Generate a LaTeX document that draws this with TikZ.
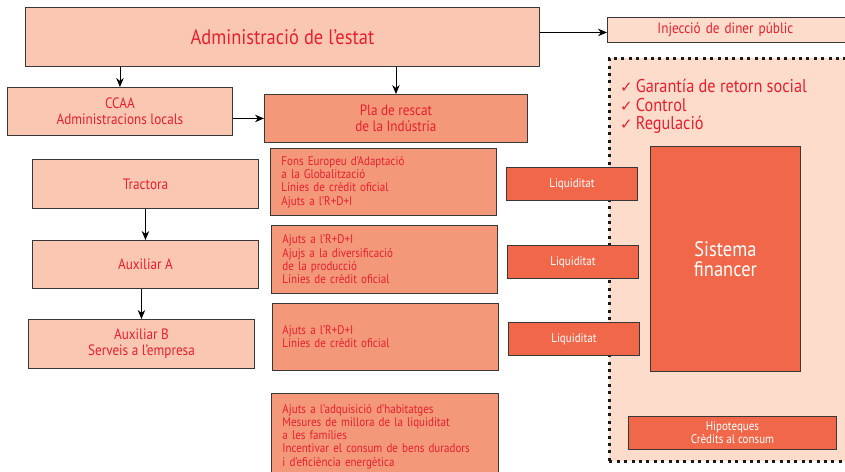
\documentclass[tikz,border=0pt]{standalone}
\usepackage{fontspec}
\setmainfont[FakeStretch=0.88]{PT Sans}
\newfontfamily\chkfont{DejaVu Sans}
\usetikzlibrary{arrows.meta,calc}
\definecolor{cLight}{HTML}{FAC8B2}
\definecolor{cPale}{HTML}{FDDCCC}
\definecolor{cMid}{HTML}{F4987A}
\definecolor{cDark}{HTML}{F0674A}
\definecolor{cRed}{HTML}{E5202E}
\definecolor{cLine}{HTML}{383838}
\tikzset{
  box/.style={draw=cLine, line width=0.9pt, inner sep=0pt, anchor=north west, text=cRed},
  lbox/.style={box, fill=cLight},
  pbox/.style={box, fill=cPale},
  mbox/.style={box, fill=cMid},
  dbox/.style={box, fill=cDark, text=white},
  fbig/.style={font=\fontsize{21}{22}\selectfont},
  fmed/.style={font=\fontsize{15}{16}\selectfont},
  fsmall/.style={font=\fontsize{12.5}{13.3}\selectfont},
  mlist/.style={mbox, fsmall, align=left},
  arr/.style={draw=black, line width=0.9pt, -{Stealth[length=9pt,width=7.5pt]}},
  zone/.style={draw=black!90, fill=cPale, line width=2.8pt, dash pattern=on 3pt off 4.4pt, anchor=north west, inner sep=0pt},
}
\begin{document}
\begin{tikzpicture}[x=1pt,y=-1pt]
\useasboundingbox (0,0) rectangle (845,471);
\clip (0,0) rectangle (845,471);
% dashed zone
\node[zone, minimum width=250pt, minimum height=403pt] (zone) at (608,57) {};
% top
\node[lbox, fbig, minimum width=514pt, minimum height=59pt] (adm) at (25,7) {Administració de l’estat};
\node[pbox, fmed, minimum width=250pt, minimum height=25pt, text width=230pt, align=left] (inj) at (607,17) {\hspace*{40pt}Injecció de diner públic};
\node[lbox, fmed, minimum width=225pt, minimum height=48pt, align=center] (ccaa) at (7,87) {CCAA\\Administracions locals};
\node[mbox, fmed, minimum width=263pt, minimum height=48pt, align=center] (pla) at (264,94) {Pla de rescat\\de la Indústria};
% left column
\node[lbox, fmed, minimum width=226pt, minimum height=49pt] (trac) at (32,159) {Tractora};
\node[lbox, fmed, minimum width=226pt, minimum height=48pt] (auxa) at (32,240) {Auxiliar A};
\node[lbox, fmed, minimum width=226pt, minimum height=49pt, align=center] (auxb) at (28,319) {Auxiliar B\\Serveis a l’empresa};
% measures
\node[mlist, minimum width=226pt, minimum height=67pt, text width=204pt] (m1) at (270,148) {Fons Europeu d’Adaptació\\a la Globalització\\Línies de crèdit oficial\\Ajuts a l’R+D+I};
\node[mlist, minimum width=226pt, minimum height=68pt, text width=204pt] (m2) at (271,225) {Ajuts a l’R+D+I\\Ajujs a la diversificació\\de la producció\\Línies de crèdit oficial};
\node[mlist, minimum width=226pt, minimum height=67pt, text width=206pt] (m3) at (272,303) {Ajuts a l’R+D+I\\Línies de crèdit oficial};
\node[mlist, minimum width=227pt, minimum height=86pt, text width=205pt] (m4) at (271,393) {Ajuts a l’adquisició d’habitatges\\Mesures de millora de la liquiditat\\a les famílies\\Incentivar el consum de bens duradors\\i d’eficiència energètica};
% liquidity
\node[dbox, fsmall, minimum width=131pt, minimum height=33pt] (l1) at (506,167) {Liquiditat};
\node[dbox, fsmall, minimum width=131pt, minimum height=33pt] (l2) at (507,245) {Liquiditat};
\node[dbox, fsmall, minimum width=131pt, minimum height=33pt] (l3) at (508,322) {Liquiditat};
% financial system
\node[dbox, fbig, minimum width=150pt, minimum height=225pt, align=center, font=\fontsize{21}{20}\selectfont] (sf) at (650,146) {Sistema\\financer};
\node[dbox, fsmall, minimum width=208pt, minimum height=33pt, align=center] (hip) at (628,416) {Hipoteques\\Crèdits al consum};
\node[text=cRed, anchor=north west, inner sep=0pt, align=left, font=\fontsize{18.5}{18.7}\selectfont] (chk) at (620,79)
  {{\chkfont\fontsize{15}{18.7}\selectfont ✓}\,Garantía de retorn social\\{\chkfont\fontsize{15}{18.7}\selectfont ✓}\,Control\\{\chkfont\fontsize{15}{18.7}\selectfont ✓}\,Regulació};
% arrows
\draw[arr] (adm.south -| ccaa.north) -- (ccaa.north);
\draw[arr] (adm.south -| pla.north) -- (pla.north);
\draw[arr] ([yshift=-2.5pt]inj.west -| adm.east) -- ([yshift=-2.5pt]inj.west);
\draw[arr] (ccaa.east |- pla.west) -- (pla.west);
\draw[arr] (trac.south) -- (trac.south |- auxa.north);
\draw[arr] (auxa.south -| auxb.north) -- (auxb.north);
\end{tikzpicture}
\end{document}
